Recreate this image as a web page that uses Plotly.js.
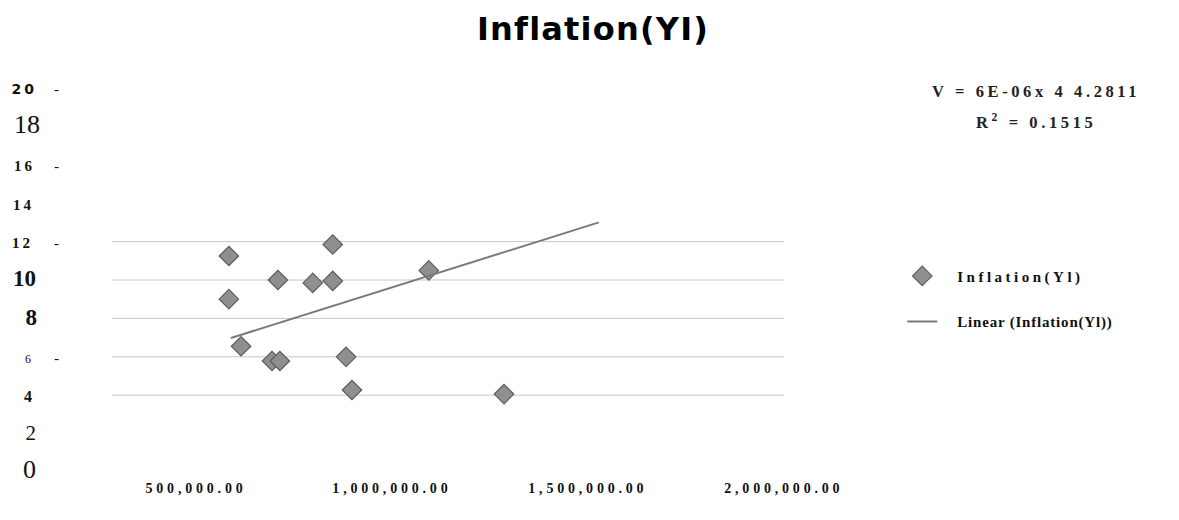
<!DOCTYPE html>
<html>
<head>
<meta charset="utf-8">
<script src="https://cdn.plot.ly/plotly-3.0.1.min.js"></script>
<style>
  html, body { margin: 0; padding: 0; background: #fff; }
  #chart { width: 1179px; height: 520px; }
  .xtick text { letter-spacing: 3.8px; }
  .legendtext { letter-spacing: 3.5px; }
  .annotation-text { letter-spacing: 3.6px; }
  .gtitle { letter-spacing: 1.2px; }
</style>
</head>
<body>
<div id="chart"></div>
<script>
// ---- data ----
const gdpValues = [584000, 584000, 709000, 798000, 849000, 849000, 615000, 694000, 714000, 883000, 898000, 1094000, 1286000];
const inflationValues = [11.25, 9.0, 10.0, 9.85, 11.85, 9.95, 6.55, 5.78, 5.78, 6.0, 4.27, 10.5, 4.06];
const trendX = [589000, 1528000];
const trendY = [6.98, 13.0];
const xTickValues = [500000, 1000000, 1500000, 2000000];
const xTickLabels = ["500,000.00", "1,000,000.00", "1,500,000.00", "2,000,000.00"];
const yTickValues = [0, 2, 4, 6, 8, 10, 12, 14, 16, 18, 20];
const yTickNumbers = ["0", "2", "4", "6", "8", "10", "12", "14", "16", "18", "20"];
const gridValues = [4, 6, 8, 10, 12];
const seriesName = "Inflation(Yl)";
const trendName = "Linear (Inflation(Yl))";
const equationText = "V = 6E-06x 4 4.2811";
const r2Text = "R<sup>2</sup> = 0.1515";

// ---- tick label styling (scanned look: mixed sizes) ----
const yLabelStyle = {
  0:  {size: 26, weight: "normal", family: "Liberation Serif", ls: 0, dash: false, pad: 18},
  2:  {size: 21, weight: "normal", family: "Liberation Serif", ls: 0, dash: false, pad: 18},
  4:  {size: 16, weight: "bold",   family: "Liberation Serif", ls: 0, dash: false, pad: 22},
  6:  {size: 12, weight: "normal", family: "Liberation Serif", ls: 0, dash: true,  pad: 23},
  8:  {size: 23, weight: "bold",   family: "Liberation Serif", ls: 0, dash: false, pad: 17},
  10: {size: 23, weight: "bold",   family: "Liberation Serif", ls: 0, dash: false, pad: 18},
  12: {size: 15, weight: "bold",   family: "Liberation Serif", ls: 3, dash: true,  pad: 21},
  14: {size: 15, weight: "bold",   family: "Liberation Serif", ls: 3, dash: false, pad: 20},
  16: {size: 15, weight: "bold",   family: "Liberation Serif", ls: 3, dash: true,  pad: 19},
  18: {size: 26, weight: "normal", family: "Liberation Serif", ls: 0, dash: false, pad: 14},
  20: {size: 14, weight: "bold",   family: "DejaVu Sans",      ls: 3, dash: true,  pad: 17}
};
function padSpan(px) {
  return '<span style="font-size:' + px + 'px;letter-spacing:0px">\u00a0\u00a0\u00a0\u00a0</span>';
}
const yTickText = yTickValues.map(function (v, i) {
  const s = yLabelStyle[v];
  let t = '<span style="font-family:' + s.family + ';font-size:' + s.size + 'px;font-weight:' + s.weight +
          ';letter-spacing:' + s.ls + 'px">' + yTickNumbers[i] + '</span>' + padSpan(s.pad);
  if (s.dash) {
    t += '<span style="font-family:Liberation Serif;font-size:15px;letter-spacing:0px">-</span>';
  } else {
    t += padSpan(5);
  }
  return t;
});

const traces = [
  {
    type: "scatter",
    mode: "markers",
    name: '<span style="letter-spacing:0px">\u00a0\u00a0\u00a0\u00a0</span>' + seriesName,
    legendgroup: "a",
    x: gdpValues,
    y: inflationValues,
    marker: {symbol: "diamond", size: 15, color: "#8f8f8f", line: {color: "#5e5e5e", width: 1.2}},
    hoverinfo: "x+y"
  },
  {
    type: "scatter",
    mode: "lines",
    name: '<span style="letter-spacing:0px">\u00a0\u00a0\u00a0\u00a0</span><span style="letter-spacing:0.8px">' + trendName + '</span>',
    legendgroup: "b",
    x: trendX,
    y: trendY,
    line: {color: "#7a7a7a", width: 2},
    hoverinfo: "skip"
  }
];

const layout = {
  width: 1179,
  height: 520,
  paper_bgcolor: "#ffffff",
  plot_bgcolor: "#ffffff",
  margin: {l: 112, r: 395, t: 88, b: 48, pad: 0},
  title: {
    text: "Inflation(YI)",
    font: {family: "DejaVu Sans", size: 32, weight: "bold", color: "#000"},
    xref: "container", x: 0.503, xanchor: "center",
    yref: "container", y: 0.944, yanchor: "middle"
  },
  showlegend: true,
  legend: {
    x: 1.176, xanchor: "left",
    y: 0.553, yanchor: "top",
    bgcolor: "rgba(0,0,0,0)",
    font: {family: "Liberation Serif", size: 15, weight: "bold", color: "#111"},
    traceorder: "grouped",
    tracegroupgap: 23,
    itemwidth: 30
  },
  xaxis: {
    range: [285700, 2000500],
    tickmode: "array",
    tickvals: xTickValues,
    ticktext: xTickLabels,
    showgrid: false,
    zeroline: false,
    showline: false,
    ticks: "",
    automargin: false,
    ticklabelstandoff: 6,
    tickfont: {family: "Liberation Serif", size: 14, weight: "bold", color: "#111"}
  },
  yaxis: {
    range: [0, 20],
    tickmode: "array",
    tickvals: yTickValues,
    ticktext: yTickText,
    showgrid: false,
    zeroline: false,
    showline: false,
    ticks: "",
    automargin: false,
    ticklabelstandoff: 52,
    tickfont: {family: "Liberation Serif", size: 18, color: "#111"}
  },
  shapes: gridValues.map(function (g) {
    return {type: "line", layer: "below", xref: "paper", x0: 0, x1: 1, yref: "y", y0: g, y1: g,
            line: {color: "#c6c6c6", width: 1}};
  }),
  annotations: [
    {text: equationText, xref: "paper", yref: "paper", x: (1036 - 112) / 672, y: (472 - 91) / 384,
     xanchor: "center", yanchor: "middle", showarrow: false,
     font: {family: "Liberation Serif", size: 16.5, weight: "bold", color: "#222"}},
    {text: r2Text, xref: "paper", yref: "paper", x: (1036 - 112) / 672, y: (472 - 121) / 384,
     xanchor: "center", yanchor: "middle", showarrow: false,
     font: {family: "Liberation Serif", size: 16.5, weight: "bold", color: "#222"}}
  ]
};

Plotly.newPlot("chart", traces, layout, {displayModeBar: false, responsive: false});
</script>
</body>
</html>
